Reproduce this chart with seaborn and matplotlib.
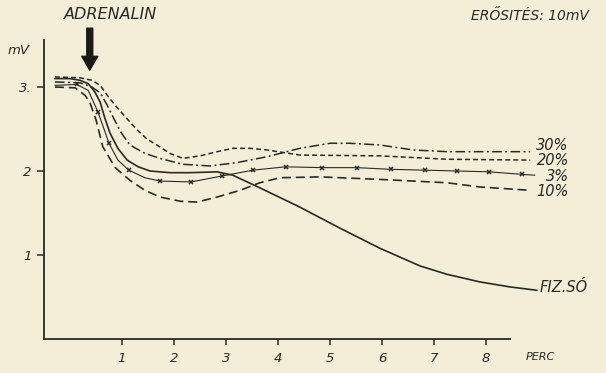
import matplotlib
matplotlib.use("Agg")
import matplotlib.pyplot as plt
import seaborn as sns
import pandas as pd

# ---- data (minutes, mV) ----
fiz_min = [-0.29, 0.0, 0.19, 0.35, 0.48, 0.58, 0.67, 0.77, 0.92, 1.10, 1.31, 1.54, 1.92,
           2.31, 2.83, 3.13, 3.65, 4.42, 5.19, 5.96, 6.73, 7.25, 7.88, 8.46, 8.98]
fiz_mv = [3.10, 3.10, 3.08, 3.04, 2.94, 2.82, 2.63, 2.45, 2.27, 2.13, 2.05, 2.00, 1.98,
          1.98, 1.99, 1.95, 1.80, 1.57, 1.32, 1.08, 0.87, 0.77, 0.68, 0.62, 0.58]

p3_min = [-0.29, 0.13, 0.35, 0.54, 0.75, 0.92, 1.13, 1.44, 1.73, 2.33, 2.92, 3.52, 4.15,
          4.85, 5.52, 6.17, 6.83, 7.44, 8.06, 8.69, 8.94]
p3_mv = [3.02, 3.03, 2.96, 2.70, 2.33, 2.13, 2.01, 1.92, 1.88, 1.87, 1.94, 2.01, 2.05,
         2.04, 2.04, 2.02, 2.01, 2.00, 1.99, 1.96, 1.95]
p3_marks = [1, 3, 4, 6, 8, 9, 10, 11, 12, 13, 14, 15, 16, 17, 18, 19]

p10_min = [-0.29, 0.10, 0.29, 0.38, 0.50, 0.63, 0.87, 1.15, 1.44, 1.73, 2.12, 2.44, 2.83,
           3.27, 3.65, 4.04, 4.81, 5.96, 7.25, 7.88, 8.85]
p10_mv = [3.00, 2.99, 2.90, 2.82, 2.61, 2.29, 2.04, 1.89, 1.77, 1.69, 1.64, 1.63, 1.69,
          1.77, 1.86, 1.92, 1.93, 1.90, 1.86, 1.81, 1.77]

p20_min = [-0.29, 0.19, 0.42, 0.58, 0.73, 0.90, 1.10, 1.29, 1.48, 1.67, 1.92, 2.17, 2.50,
           2.83, 3.13, 3.46, 3.79, 4.42, 5.96, 7.25, 8.85]
p20_mv = [3.12, 3.11, 3.08, 3.02, 2.89, 2.76, 2.62, 2.49, 2.38, 2.31, 2.21, 2.15, 2.18,
          2.23, 2.27, 2.27, 2.25, 2.19, 2.18, 2.14, 2.13]

p30_min = [-0.29, 0.19, 0.42, 0.58, 0.71, 0.83, 0.98, 1.15, 1.44, 1.73, 2.17, 2.69, 3.21,
           3.79, 4.42, 5.00, 5.38, 5.96, 6.60, 7.25, 7.88, 8.85]
p30_mv = [3.06, 3.05, 3.00, 2.93, 2.79, 2.64, 2.46, 2.31, 2.21, 2.15, 2.08, 2.06, 2.10,
          2.17, 2.27, 2.33, 2.33, 2.31, 2.25, 2.23, 2.23, 2.23]

x_ticks = [1, 2, 3, 4, 5, 6, 7, 8]
x_tick_labels = ["1", "2", "3", "4", "5", "6", "7", "8"]
y_ticks = [1, 2, 3]
y_tick_labels = ["1", "2", "3."]

series_labels = ["FIZ.SÓ", "3%", "10%", "20%", "30%"]

# ---- style ----
INK = "#2b2926"
BG = "#f3eed8"
sns.set_theme(style="white")
plt.rcParams["font.family"] = ["DejaVu Sans"]
plt.rcParams["lines.scale_dashes"] = False
plt.rcParams["figure.facecolor"] = BG
plt.rcParams["axes.facecolor"] = BG

fig = plt.figure(figsize=(6.06, 3.73), dpi=100)
ax = fig.add_axes([44 / 606, 34 / 373, 562 / 606, 339 / 373])
ax.set_xlim(-0.5, -0.5 + 562 / 52)
ax.set_ylim(0, 339 / 84)

common = dict(ax=ax, sort=False, estimator=None, color=INK, legend=False)
sns.lineplot(x=fiz_min, y=fiz_mv, linewidth=1.2, **common)
sns.lineplot(x=p3_min, y=p3_mv, linewidth=0.8, marker="x", markersize=3.5,
             markeredgewidth=1.1, markeredgecolor=INK, markevery=p3_marks, **common)
sns.lineplot(x=p10_min, y=p10_mv, linewidth=1.2, linestyle=(0, (6.5, 3.5)), **common)
sns.lineplot(x=p20_min, y=p20_mv, linewidth=1.1, linestyle=(0, (3.6, 2.2)), **common)
sns.lineplot(x=p30_min, y=p30_mv, linewidth=1.1, linestyle=(0, (7, 2.4, 1.4, 2.4)), **common)

# end labels
lab_font = dict(fontsize=10.5, style="italic", color=INK, va="center", ha="left")
ax.text(fiz_min[-1] + 0.06, fiz_mv[-1] + 0.03, series_labels[0], **lab_font)
ax.text(p3_min[-1] + 0.22, p3_mv[-1] - 0.01, series_labels[1], **lab_font)
ax.text(p10_min[-1] + 0.12, p10_mv[-1] - 0.02, series_labels[2], **lab_font)
ax.text(p20_min[-1] + 0.12, p20_mv[-1] + 0.0, series_labels[3], **lab_font)
ax.text(p30_min[-1] + 0.12, p30_mv[-1] + 0.07, series_labels[4], **lab_font)

# axes
for s in ("top", "right"):
    ax.spines[s].set_visible(False)
for s in ("left", "bottom"):
    ax.spines[s].set_color(INK)
    ax.spines[s].set_linewidth(1.3)
ax.spines["left"].set_bounds(0, 3.56)
ax.spines["bottom"].set_bounds(-0.5, 8.46)

ax.set_xticks(x_ticks)
ax.set_xticklabels(x_tick_labels, fontstyle="italic", fontsize=9.5, color=INK)
ax.set_yticks(y_ticks)
ax.set_yticklabels(y_tick_labels, fontstyle="italic", fontsize=9.5, color=INK)
ax.tick_params(axis="both", direction="out", length=5, width=1.1, color=INK, pad=4,
               bottom=True, left=True)
ax.tick_params(axis="x", length=4, pad=5)
ax.set_xlabel("")
ax.set_ylabel("")
ax.grid(False)

ax.text(8.77, -0.215, "PERC", fontsize=8, style="italic", color=INK,
        ha="left", va="center", clip_on=False)
ax.text(-0.77, 3.44, "mV", fontsize=9.5, style="italic", color=INK,
        ha="right", va="center", clip_on=False)
ax.text(0.77, 3.86, "ADRENALIN", fontsize=11.5, style="italic", color=INK,
        ha="center", va="center", clip_on=False)
ax.text(8.85, 3.85, "ERŐSITÉS: 10mV", fontsize=10, style="italic", color=INK,
        ha="center", va="center", clip_on=False)

ax.annotate("", xy=(0.38, 3.20), xytext=(0.38, 3.70),
            arrowprops=dict(width=4.3, headwidth=11.5, headlength=10,
                            color="#1c1a18", shrink=0))

fig.savefig("out.png", dpi=100, facecolor=BG)
